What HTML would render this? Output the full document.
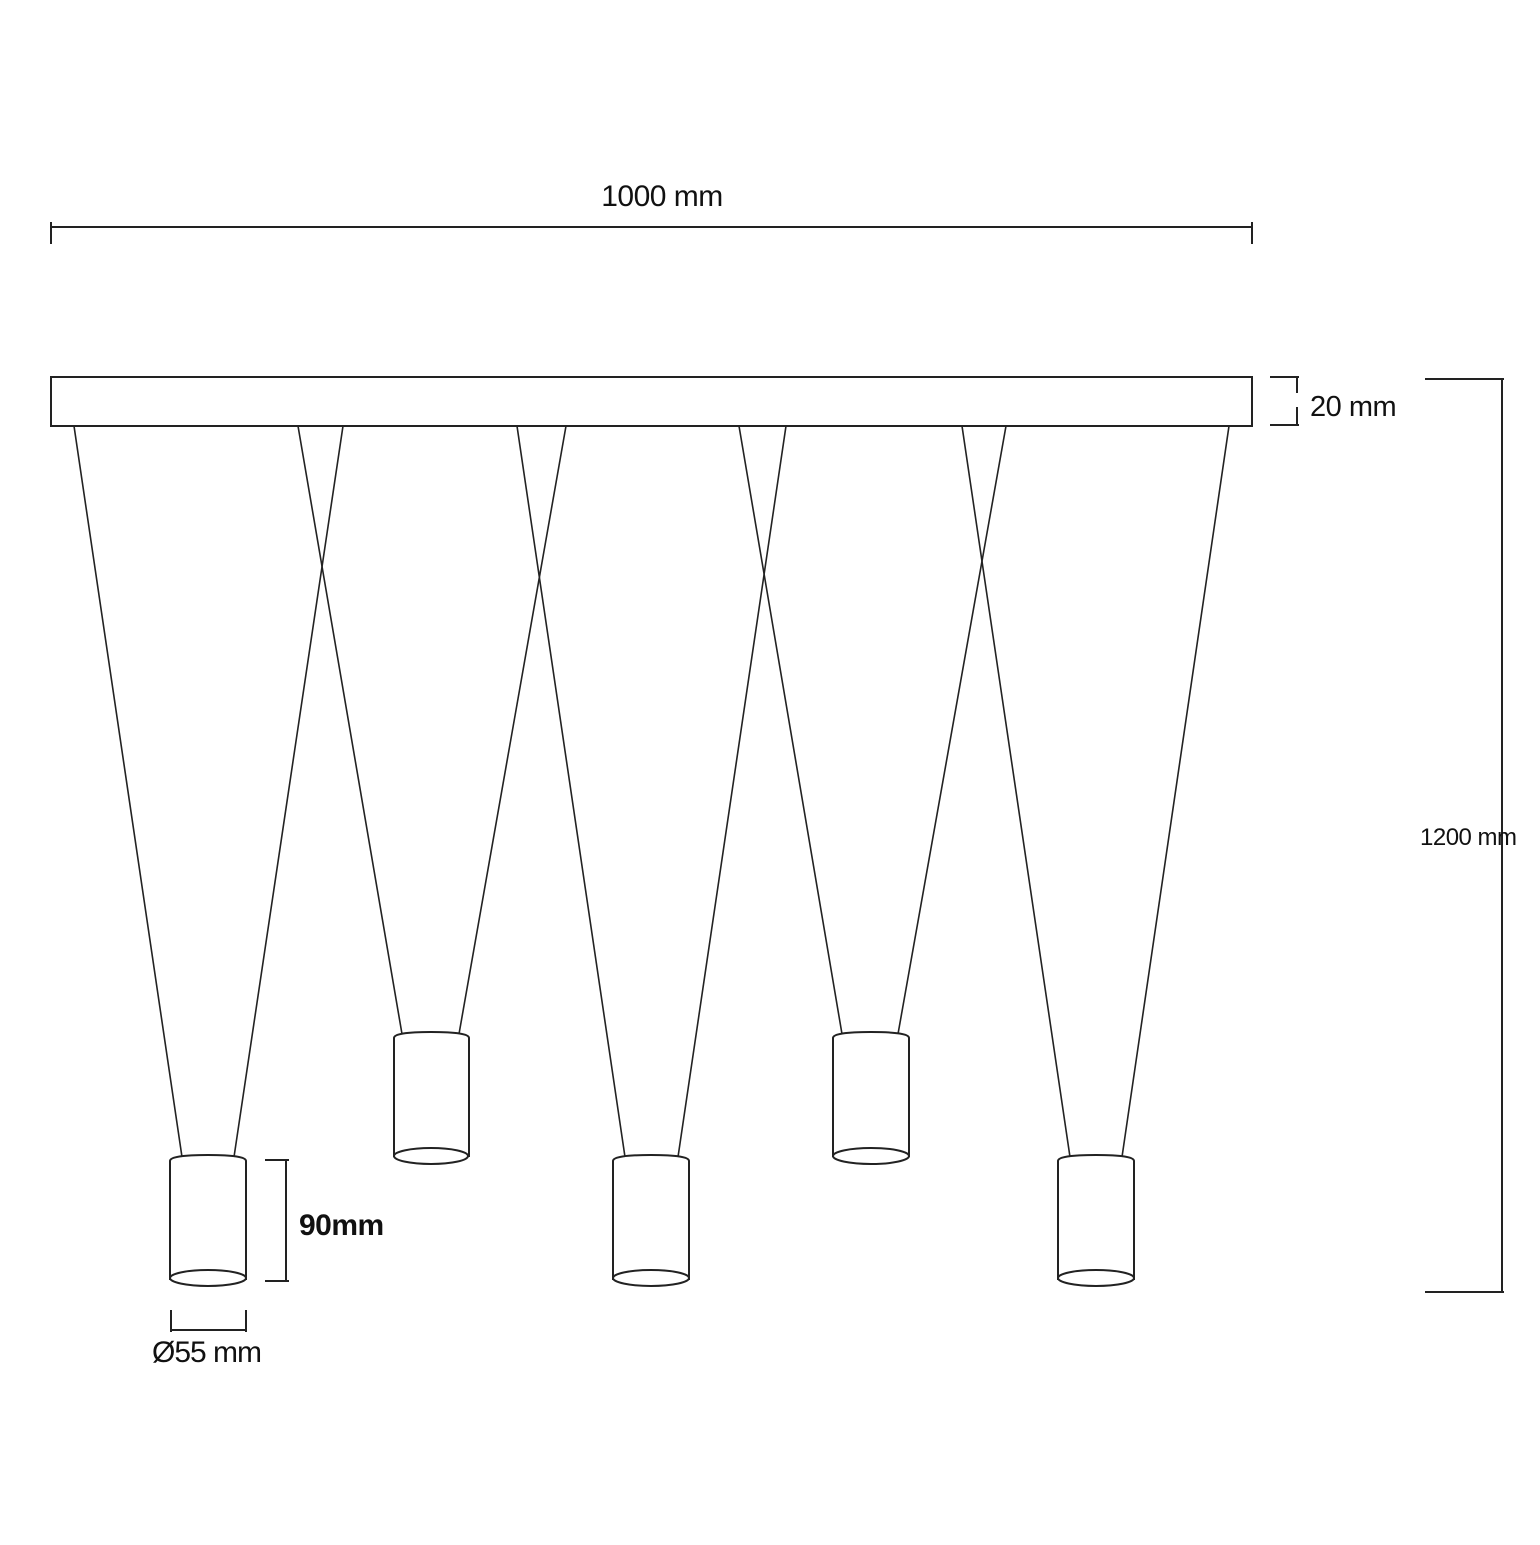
<!DOCTYPE html><html><head><style>html,body{margin:0;padding:0;background:#fff}</style></head><body>
<svg width="1540" height="1540" viewBox="0 0 1540 1540" xmlns="http://www.w3.org/2000/svg" font-family="Liberation Sans, Arial, sans-serif">
<g stroke="#222" fill="none" stroke-width="2">
<line x1="51" y1="227" x2="1252" y2="227"/>
<line x1="51" y1="222" x2="51" y2="244"/>
<line x1="1252" y1="222" x2="1252" y2="244"/>
<rect x="51" y="377" width="1201" height="49"/>
<line x1="1270" y1="377" x2="1299" y2="377"/>
<line x1="1270" y1="425" x2="1299" y2="425"/>
<line x1="1297" y1="377" x2="1297" y2="393"/>
<line x1="1297" y1="407" x2="1297" y2="425"/>
<line x1="1425" y1="379" x2="1504" y2="379"/>
<line x1="1502" y1="379" x2="1502" y2="1292"/>
<line x1="1425" y1="1292" x2="1504" y2="1292"/>
<g stroke-width="1.6">
<line x1="74" y1="426" x2="182" y2="1157"/><line x1="343" y1="426" x2="234" y2="1157"/>
<line x1="298" y1="426" x2="402" y2="1034"/><line x1="566" y1="426" x2="459" y2="1034"/>
<line x1="517" y1="426" x2="625" y2="1157"/><line x1="786" y1="426" x2="678" y2="1157"/>
<line x1="739" y1="426" x2="842" y2="1034"/><line x1="1006" y1="426" x2="898" y2="1034"/>
<line x1="962" y1="426" x2="1070" y2="1157"/><line x1="1229" y1="426" x2="1122" y2="1157"/>
</g>
<path d="M170 1280 V1161 Q170 1155 208 1155 Q246 1155 246 1161 V1280"/><ellipse cx="208" cy="1278" rx="38" ry="8"/>
<path d="M613 1280 V1161 Q613 1155 651 1155 Q689 1155 689 1161 V1280"/><ellipse cx="651" cy="1278" rx="38" ry="8"/>
<path d="M1058 1280 V1161 Q1058 1155 1096 1155 Q1134 1155 1134 1161 V1280"/><ellipse cx="1096" cy="1278" rx="38" ry="8"/>
<path d="M394 1157 V1038 Q394 1032 431 1032 Q469 1032 469 1038 V1157"/><ellipse cx="431" cy="1156" rx="37" ry="8"/>
<path d="M833 1157 V1038 Q833 1032 871 1032 Q909 1032 909 1038 V1157"/><ellipse cx="871" cy="1156" rx="38" ry="8"/>
<line x1="265" y1="1160" x2="289" y2="1160"/><line x1="265" y1="1281" x2="289" y2="1281"/>
<line x1="286" y1="1160" x2="286" y2="1281"/>
<line x1="171" y1="1310" x2="171" y2="1332"/><line x1="246" y1="1310" x2="246" y2="1332"/>
<line x1="171" y1="1330" x2="246" y2="1330"/>
</g>
<g fill="#111">
<text x="662" y="206" font-size="30" text-anchor="middle" letter-spacing="-0.5">1000 mm</text>
<text x="1310" y="416" font-size="29" letter-spacing="-0.5">20 mm</text>
<text x="1420" y="845" font-size="24" letter-spacing="-0.5">1200 mm</text>
<text x="299" y="1235" font-size="30" font-weight="bold" letter-spacing="-0.5">90mm</text>
<text x="152" y="1362" font-size="30" letter-spacing="-1">Ø55 mm</text>
</g>
</svg>
</body></html>
